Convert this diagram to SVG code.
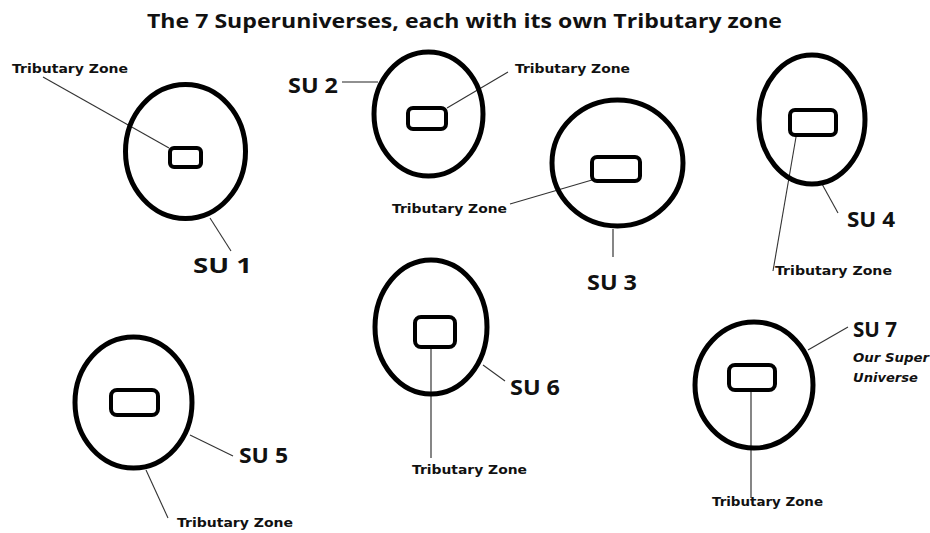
<svg xmlns="http://www.w3.org/2000/svg" width="930" height="533" viewBox="0 0 930 533">
<style>
.su{fill:none;stroke:#000;stroke-width:5}
.tz{fill:none;stroke:#000;stroke-width:4}
.ln{fill:none;stroke:#222;stroke-width:1.1}
.dl{fill:none;stroke:#333;stroke-width:1.1}
.title{font-family:"Open Sans","DejaVu Sans",sans-serif;font-weight:bold;font-size:20px;fill:#111}
.sul{font-family:"Open Sans","DejaVu Sans",sans-serif;font-weight:bold;font-size:22px;fill:#111}
.tzl{font-family:"DejaVu Sans","Liberation Sans",sans-serif;font-weight:bold;font-size:12.5px;fill:#111}
.note{font-family:"DejaVu Sans","Liberation Sans",sans-serif;font-weight:bold;font-style:italic;font-size:13px;fill:#111}
</style>
<rect width="930" height="533" fill="#fff"/>
<text class="title" x="147" y="28" textLength="635" lengthAdjust="spacingAndGlyphs">The 7 Superuniverses, each with its own Tributary zone</text>

<g id="connectors">
<line class="dl" x1="43" y1="77" x2="169" y2="148"/>
<line class="dl" x1="210" y1="218" x2="231" y2="251"/>
<line class="ln" x1="342" y1="82" x2="378" y2="82"/>
<line class="dl" x1="508" y1="72" x2="447" y2="108"/>
<line class="dl" x1="510" y1="204" x2="592" y2="180"/>
<line class="ln" x1="613" y1="229" x2="613" y2="257"/>
<line class="dl" x1="796" y1="137" x2="773" y2="271"/>
<line class="dl" x1="822" y1="184" x2="838" y2="213"/>
<line class="dl" x1="190" y1="435" x2="233" y2="456"/>
<line class="dl" x1="146" y1="470" x2="168" y2="518"/>
<line class="ln" x1="431" y1="349" x2="431" y2="458"/>
<line class="dl" x1="483" y1="365" x2="505" y2="381"/>
<line class="ln" x1="751" y1="392" x2="751" y2="498"/>
<line class="dl" x1="808" y1="350" x2="848" y2="327"/>
</g>

<g id="su1">
<ellipse class="su" cx="185.5" cy="151.5" rx="60" ry="67"/>
<rect class="tz" x="170" y="148" width="31" height="19" rx="4"/>
<text class="tzl" x="12" y="73" textLength="116" lengthAdjust="spacingAndGlyphs">Tributary Zone</text>
<text class="sul" x="193" y="273" textLength="59" lengthAdjust="spacingAndGlyphs">SU 1</text>
</g>

<g id="su2">
<ellipse class="su" cx="428.5" cy="114" rx="54.5" ry="62"/>
<rect class="tz" x="408" y="108" width="38" height="21" rx="5"/>
<text class="sul" x="288" y="93" textLength="50" lengthAdjust="spacingAndGlyphs">SU 2</text>
<text class="tzl" x="515" y="73" textLength="115" lengthAdjust="spacingAndGlyphs">Tributary Zone</text>
</g>

<g id="su3">
<ellipse class="su" cx="617.5" cy="163" rx="65.5" ry="63"/>
<rect class="tz" x="592" y="157" width="48" height="24" rx="5"/>
<text class="tzl" x="392" y="213" textLength="115" lengthAdjust="spacingAndGlyphs">Tributary Zone</text>
<text class="sul" x="587" y="290" textLength="50" lengthAdjust="spacingAndGlyphs">SU 3</text>
</g>

<g id="su4">
<ellipse class="su" cx="812" cy="119.5" rx="53" ry="64.5"/>
<rect class="tz" x="790" y="110" width="46" height="25" rx="5"/>
<text class="sul" x="847" y="227" textLength="48" lengthAdjust="spacingAndGlyphs">SU 4</text>
<text class="tzl" x="775" y="275" textLength="117" lengthAdjust="spacingAndGlyphs">Tributary Zone</text>
</g>

<g id="su5">
<ellipse class="su" cx="133.5" cy="402.5" rx="58.5" ry="65.5"/>
<rect class="tz" x="111" y="390" width="47" height="25" rx="6"/>
<text class="sul" x="239" y="463" textLength="49" lengthAdjust="spacingAndGlyphs">SU 5</text>
<text class="tzl" x="177" y="527" textLength="116" lengthAdjust="spacingAndGlyphs">Tributary Zone</text>
</g>

<g id="su6">
<ellipse class="su" cx="431" cy="327" rx="56" ry="67"/>
<rect class="tz" x="415" y="317" width="40" height="30" rx="6"/>
<text class="sul" x="510" y="395" textLength="50" lengthAdjust="spacingAndGlyphs">SU 6</text>
<text class="tzl" x="412" y="474" textLength="115" lengthAdjust="spacingAndGlyphs">Tributary Zone</text>
</g>

<g id="su7">
<ellipse class="su" cx="754" cy="385" rx="59" ry="63"/>
<rect class="tz" x="729" y="365" width="46" height="25" rx="6"/>
<text class="sul" x="853" y="337" textLength="44" lengthAdjust="spacingAndGlyphs">SU 7</text>
<text class="note" x="853" y="362" textLength="76" lengthAdjust="spacingAndGlyphs">Our Super</text>
<text class="note" x="853" y="382" textLength="65" lengthAdjust="spacingAndGlyphs">Universe</text>
<text class="tzl" x="712" y="506" textLength="111" lengthAdjust="spacingAndGlyphs">Tributary Zone</text>
</g>
</svg>
